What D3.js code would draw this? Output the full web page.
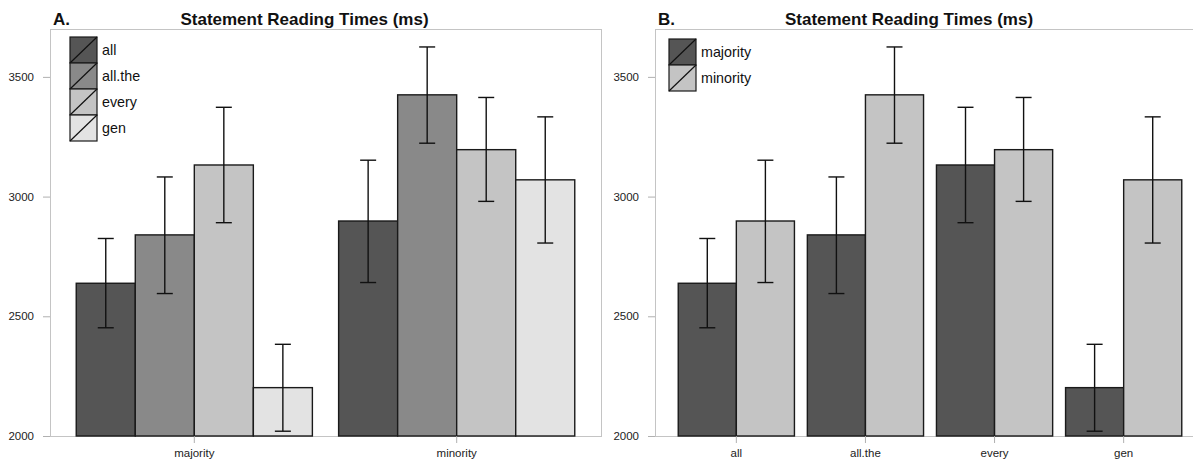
<!DOCTYPE html>
<html>
<head>
<meta charset="utf-8">
<script src="https://cdn.jsdelivr.net/npm/d3@7"></script>
<style>
  html, body { margin: 0; padding: 0; background: #fff; overflow: hidden; }
  svg { display: block; font-family: "Liberation Sans", Arial, sans-serif; }
</style>
</head>
<body>
<div id="chart-container"></div>
<script>
// Dữ liệu (ms)
const quantifiers = ["all", "all.the", "every", "gen"];
const conditions = ["majority", "minority"];
const meansMajority = [2638, 2840, 3132, 2202];
const lowerMajority = [2452, 2595, 2891, 2020];
const upperMajority = [2825, 3082, 3373, 2383];
const meansMinority = [2898, 3425, 3196, 3070];
const lowerMinority = [2641, 3223, 2980, 2806];
const upperMinority = [3152, 3625, 3414, 3333];
const yTicks = [2000, 2500, 3000, 3500];

const width = 1193;
const height = 460;

const svg = d3.select("#chart-container")
    .append("svg")
    .attr("width", width)
    .attr("height", height);

// Thang đo y dùng chung cho hai panel
const yScale = d3.scaleLinear()
    .domain([2000, 3700])
    .range([436, 29]);

function drawPanel(opts) {
    const g = svg.append("g");
    const { left, right, groups, series, colors, rows, letter, paddingOuter } = opts;

    const x0 = d3.scaleBand()
        .domain(groups)
        .range([left, right])
        .paddingInner(0.1)
        .paddingOuter(paddingOuter);

    const x1 = d3.scaleBand()
        .domain(series)
        .range([0, x0.bandwidth()])
        .padding(0);

    const color = d3.scaleOrdinal().domain(series).range(colors);

    // Khung
    g.append("rect")
        .attr("x", left + 0.5)
        .attr("y", yScale.range()[1] + 0.5)
        .attr("width", right - left)
        .attr("height", yScale.range()[0] - yScale.range()[1])
        .attr("fill", "none")
        .attr("stroke", "#c4c4c4")
        .attr("stroke-width", 1);

    // Cột
    const grp = g.selectAll(".grp")
        .data(rows)
        .join("g")
        .attr("transform", d => `translate(${x0(d.group)},0)`);

    grp.selectAll("rect")
        .data(d => d.values)
        .join("rect")
        .attr("x", d => x1(d.key))
        .attr("y", d => yScale(d.mean))
        .attr("width", x1.bandwidth())
        .attr("height", d => yScale(2000) - yScale(d.mean))
        .attr("fill", d => color(d.key))
        .attr("stroke", "#1a1a1a")
        .attr("stroke-width", 1.4);

    // Thanh sai số
    const err = grp.selectAll(".err")
        .data(d => d.values)
        .join("g")
        .attr("class", "err")
        .attr("stroke", "#111")
        .attr("stroke-width", 1.4);
    const cx = d => x1(d.key) + x1.bandwidth() / 2;
    err.append("line")
        .attr("x1", cx).attr("x2", cx)
        .attr("y1", d => yScale(d.lo)).attr("y2", d => yScale(d.hi));
    err.append("line")
        .attr("x1", d => cx(d) - 8).attr("x2", d => cx(d) + 8)
        .attr("y1", d => yScale(d.hi)).attr("y2", d => yScale(d.hi));
    err.append("line")
        .attr("x1", d => cx(d) - 8).attr("x2", d => cx(d) + 8)
        .attr("y1", d => yScale(d.lo)).attr("y2", d => yScale(d.lo));

    // Trục y
    const yAxis = g.append("g")
        .attr("transform", `translate(${left},0)`)
        .call(d3.axisLeft(yScale).tickValues(yTicks).tickSize(7).tickPadding(9).tickFormat(d3.format("d")));
    yAxis.select(".domain").remove();
    yAxis.selectAll("line").attr("stroke", "#b0b0b0");
    yAxis.selectAll("text")
        .style("font-size", "11.5px")
        .style("font-family", "Liberation Sans, Arial, sans-serif")
        .attr("fill", "#222");

    // Trục x
    const xAxis = g.append("g")
        .attr("transform", `translate(0,${yScale(2000)})`)
        .call(d3.axisBottom(x0).tickSize(7).tickPadding(6));
    xAxis.select(".domain").remove();
    xAxis.selectAll("line").attr("stroke", "#b0b0b0");
    xAxis.selectAll("text")
        .style("font-size", "11.5px")
        .style("font-family", "Liberation Sans, Arial, sans-serif")
        .attr("fill", "#222");

    // Tiêu đề
    g.append("text")
        .attr("x", (left + right) / 2 - 21)
        .attr("y", 25)
        .attr("text-anchor", "middle")
        .style("font-size", "17px")
        .style("font-weight", "bold")
        .attr("fill", "#111")
        .text("Statement Reading Times (ms)");

    g.append("text")
        .attr("x", left + 3)
        .attr("y", 25)
        .style("font-size", "17px")
        .style("font-weight", "bold")
        .attr("fill", "#111")
        .text(letter);

    // Chú giải
    const lx = opts.legendX, ly = opts.legendY, box = 26;
    const leg = g.selectAll(".leg")
        .data(series)
        .join("g")
        .attr("transform", (d, i) => `translate(${lx},${ly + i * box})`);
    leg.append("rect")
        .attr("width", 27).attr("height", box)
        .attr("fill", d => color(d))
        .attr("stroke", "#1a1a1a")
        .attr("stroke-width", 1.2);
    leg.append("line")
        .attr("x1", 0).attr("y1", box)
        .attr("x2", 27).attr("y2", 0)
        .attr("stroke", "#111")
        .attr("stroke-width", 1.2);
    leg.append("text")
        .attr("x", 32)
        .attr("y", box / 2)
        .attr("dy", "0.36em")
        .style("font-size", "14.3px")
        .attr("fill", "#111")
        .text(d => d);
}

// Panel A: nhóm theo điều kiện, cột theo lượng từ
drawPanel({
    left: 50, right: 601,
    groups: conditions,
    series: quantifiers,
    colors: ["#555555", "#898989", "#c4c4c4", "#e3e3e3"],
    paddingOuter: 0.1,
    letter: "A.",
    legendX: 70, legendY: 37,
    rows: [
        { group: "majority", values: quantifiers.map((q, i) => ({ key: q, mean: meansMajority[i], lo: lowerMajority[i], hi: upperMajority[i] })) },
        { group: "minority", values: quantifiers.map((q, i) => ({ key: q, mean: meansMinority[i], lo: lowerMinority[i], hi: upperMinority[i] })) }
    ]
});

// Panel B: nhóm theo lượng từ, cột theo điều kiện
drawPanel({
    left: 655, right: 1205,
    groups: quantifiers,
    series: conditions,
    colors: ["#555555", "#c4c4c4"],
    paddingOuter: 0.18,
    letter: "B.",
    legendX: 669, legendY: 39,
    rows: quantifiers.map((q, i) => ({
        group: q,
        values: [
            { key: "majority", mean: meansMajority[i], lo: lowerMajority[i], hi: upperMajority[i] },
            { key: "minority", mean: meansMinority[i], lo: lowerMinority[i], hi: upperMinority[i] }
        ]
    }))
});
</script>
</body>
</html>
